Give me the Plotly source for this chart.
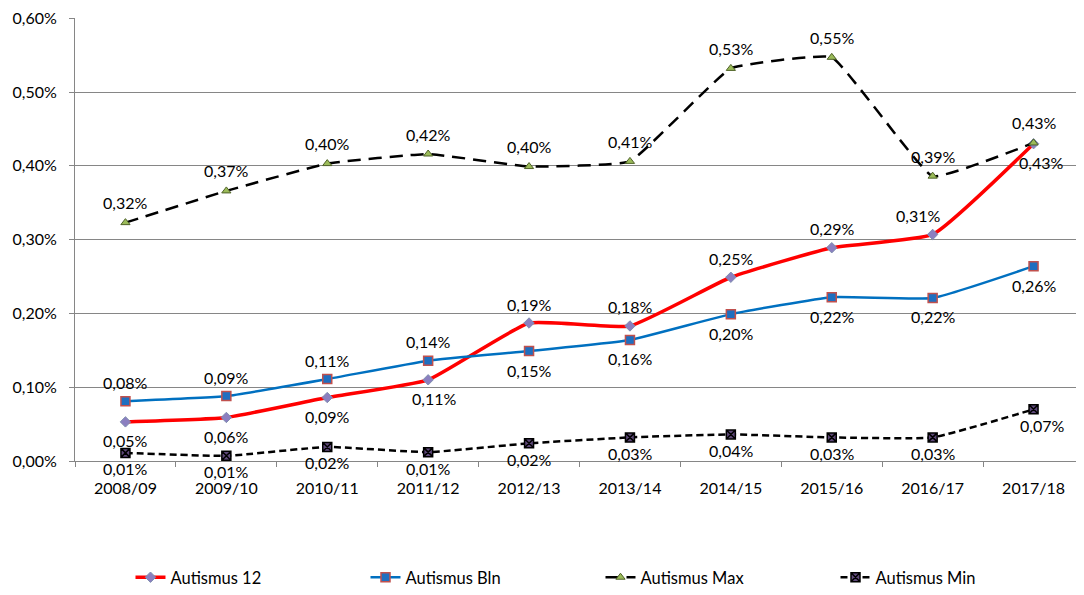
import plotly.graph_objects as go

categories = ["2008/09", "2009/10", "2010/11", "2011/12", "2012/13",
              "2013/14", "2014/15", "2015/16", "2016/17", "2017/18"]

# values in percent
autismus_12 = [0.053, 0.059, 0.086, 0.110, 0.187, 0.183, 0.249, 0.289, 0.307, 0.430]
autismus_bln = [0.081, 0.088, 0.111, 0.136, 0.149, 0.164, 0.199, 0.222, 0.221, 0.264]
autismus_max = [0.323, 0.366, 0.403, 0.416, 0.399, 0.406, 0.532, 0.547, 0.386, 0.431]
autismus_min = [0.011, 0.007, 0.019, 0.012, 0.024, 0.032, 0.036, 0.032, 0.032, 0.070]

y_ticks = [0.0, 0.1, 0.2, 0.3, 0.4, 0.5, 0.6]


def pct(v):
    return f"{v:.2f}%".replace(".", ",")


FONT = "Lato, 'Open Sans', sans-serif"
FS = 16

# label placement (style): +1 above, -1 below
side_12 = [-1, -1, -1, -1, 1, 1, 1, 1, 1, -1]
side_bln = [1, 1, 1, 1, -1, -1, -1, -1, -1, -1]
side_max = [1] * 10
side_min = [-1] * 10
xs_12 = [0, 0, 0, 6, 0, 0, 0, 0, -15, 7]
xs_min = [0, 0, 0, 0, 0, 0, 0, 0, 0, 8]

series = [
    dict(name="Autismus 12", y=autismus_12, side=side_12, xs=xs_12, off=19,
         line=dict(color="#FF0000", width=3.5, shape="spline", smoothing=0.4),
         marker=dict(symbol="diamond", size=8, color="#8B7FC0",
                     line=dict(color="#7F8FB0", width=1))),
    dict(name="Autismus Bln", y=autismus_bln, side=side_bln, xs=[0] * 10, off=19,
         line=dict(color="#0070C0", width=2.5, shape="spline", smoothing=0.4),
         marker=dict(symbol="square", size=9, color="#1F6FC0",
                     line=dict(color="#C0504D", width=1.5))),
    dict(name="Autismus Max", y=autismus_max, side=side_max, xs=[0] * 10, off=20,
         line=dict(color="#000000", width=2.5, dash="13px,8px", shape="spline", smoothing=0.3),
         marker=dict(symbol="triangle-up", size=8, color="#9BBB59",
                     line=dict(color="#4F6228", width=1))),
    dict(name="Autismus Min", y=autismus_min, side=side_min, xs=xs_min, off=16,
         line=dict(color="#000000", width=2.5, dash="7px,4px", shape="spline", smoothing=0.4),
         marker=dict(symbol="square-x", size=9, color="#5F497A",
                     line=dict(color="#000000", width=1.5))),
]

fig = go.Figure()
annotations = []
for s in series:
    fig.add_trace(go.Scatter(
        x=categories, y=s["y"], name=s["name"], mode="lines+markers",
        line=s["line"], marker=s["marker"], cliponaxis=False,
    ))
    for c, v, sd, xs in zip(categories, s["y"], s["side"], s["xs"]):
        annotations.append(dict(
            x=c, y=v, xref="x", yref="y", text=pct(v), showarrow=False,
            yshift=s["off"] * sd, xshift=xs, xanchor="center", yanchor="middle",
            font=dict(family=FONT, size=FS, color="#000000"),
        ))

# the page adds an 8px body margin, compensated in width/height/margins
fig.update_layout(
    width=1076, height=587,
    margin=dict(l=67, r=0, t=10, b=133),
    paper_bgcolor="white", plot_bgcolor="white",
    font=dict(family=FONT, size=FS, color="#000000"),
    annotations=annotations,
    showlegend=True,
    legend=dict(orientation="h", x=0.055, y=-0.262, xanchor="left", yanchor="middle",
                entrywidth=190, entrywidthmode="pixels",
                font=dict(family=FONT, size=16.5, color="#000000"),
                bgcolor="rgba(0,0,0,0)"),
    xaxis=dict(
        type="category", showgrid=False, showline=True, linecolor="#868686",
        linewidth=1, ticks="outside", tickson="boundaries", ticklen=5,
        tickcolor="#868686", tickfont=dict(family=FONT, size=FS),
        range=[-0.5, 9.5], ticklabelstandoff=13,
    ),
    yaxis=dict(
        range=[0, 0.6003], tickvals=y_ticks, ticktext=[pct(v) for v in y_ticks],
        showgrid=True, gridcolor="#868686", gridwidth=1,
        showline=True, linecolor="#868686", linewidth=1,
        ticks="outside", ticklen=5, tickcolor="#868686",
        tickfont=dict(family=FONT, size=FS), zeroline=False,
        ticklabelstandoff=9, ticklabeloverflow="allow",
    ),
)

fig.write_html("out.html")
